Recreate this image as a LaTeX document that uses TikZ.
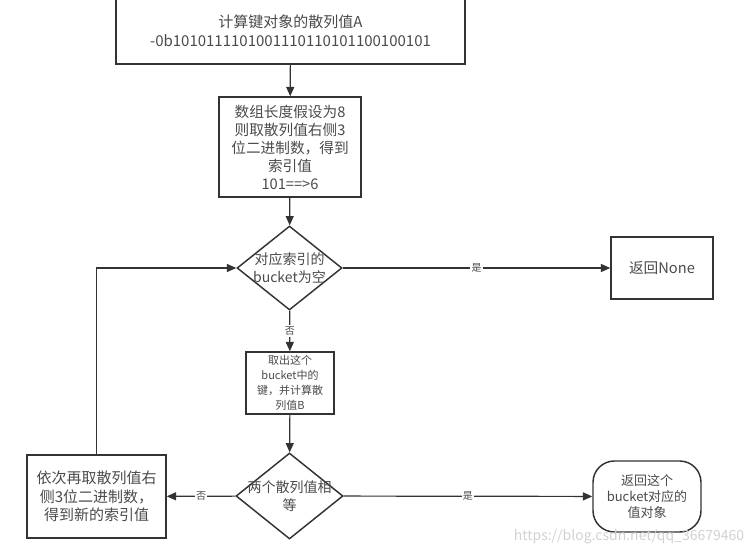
\documentclass[tikz,border=0pt]{standalone}
\usepackage{fontspec}
\usetikzlibrary{arrows.meta,shapes.geometric}
\newfontfamily\cjk{Noto Sans CJK SC}
\definecolor{linegray}{HTML}{333333}
\definecolor{textgray}{HTML}{4A4A4A}
\def\fs#1#2{\cjk\fontsize{#1}{#2}\selectfont}
\tikzset{
	box/.style={draw=linegray, line width=1.1pt, rectangle, inner sep=0pt, align=center, text=textgray},
	decision/.style={draw=linegray, line width=1.1pt, diamond, inner sep=0pt},
	flow/.style={draw=linegray, line width=0.9pt, -{Triangle[length=7pt,width=6pt]}},
	yesno/.style={fill=white, inner sep=1pt, text=textgray, font=\fs{7.5}{9}},
}

\begin{document}
\begin{tikzpicture}[x=0.75pt, y=-0.75pt]
		%%%%% START %%%%%
		\useasboundingbox (0, 0) rectangle (756, 555);
		
		\node[box, minimum width=261.75pt, minimum height=50.25pt, font=\fs{11.25}{14}] (hash) at (290.5, 30.5) {计算键对象的散列值A\\-0b1010111101001110110101100100101};
		\node[box, minimum width=106.5pt, minimum height=75pt, font=\fs{11}{13.5}] (index) at (290, 147) {数组长度假设为8\\则取散列值右侧3\\位二进制数，得到\\索引值\\101==>6};
		
		\node[decision, minimum width=78.75pt, minimum height=63pt] (q1) at (289.5, 268) {};
		\node[text=textgray, align=center, font=\fs{10.5}{13}] (q1text) at (q1) {对应索引的\\bucket为空};
		\node[box, minimum width=76.5pt, minimum height=46.5pt, font=\fs{11}{13}] (retnone) at (662, 268) {返回None};
		
		\node[box, minimum width=66pt, minimum height=46.5pt, font=\fs{8.25}{11.25}] (takeout) at (290, 383) {取出这个\\bucket中的\\键，并计算散\\列值B};
		
		\node[decision, minimum width=80.25pt, minimum height=64.5pt] (q2) at (289.5, 496) {};
		\node[text=textgray, align=center, font=\fs{10.5}{13.5}] (q2text) at (q2) {两个散列值相\\等};
		\node[box, minimum width=104.25pt, minimum height=62.25pt, font=\fs{11.25}{14}] (rehash) at (96.5, 496.5) {依次再取散列值右\\侧3位二进制数，\\得到新的索引值};
		\node[box, rounded corners=16pt, minimum width=81pt, minimum height=53.25pt, font=\fs{9.75}{12}] (retval) at (647, 496.5) {返回这个\\bucket对应的\\值对象};
		
		\draw[flow] (hash) -- (index);
		\draw[flow] (index) -- (q1);
		\draw[flow] (q1) -- node[yesno] {是} (retnone);
		\draw[flow] (q1) -- node[yesno] {否} (takeout);
		\draw[flow] (takeout) -- (q2);
		\draw[flow] (q2) -- node[yesno] {否} (rehash);
		\draw[flow] (q2) -- node[yesno] {是} (retval);
		\draw[flow] (rehash.north) |- (q1);
		
		\node[text=black!18, font=\fs{10.5}{12}] (mark) at (629, 537) {https://blog.csdn.net/qq\_36679460};
		
		%%%%% END %%%%%
\end{tikzpicture}
\end{document}
